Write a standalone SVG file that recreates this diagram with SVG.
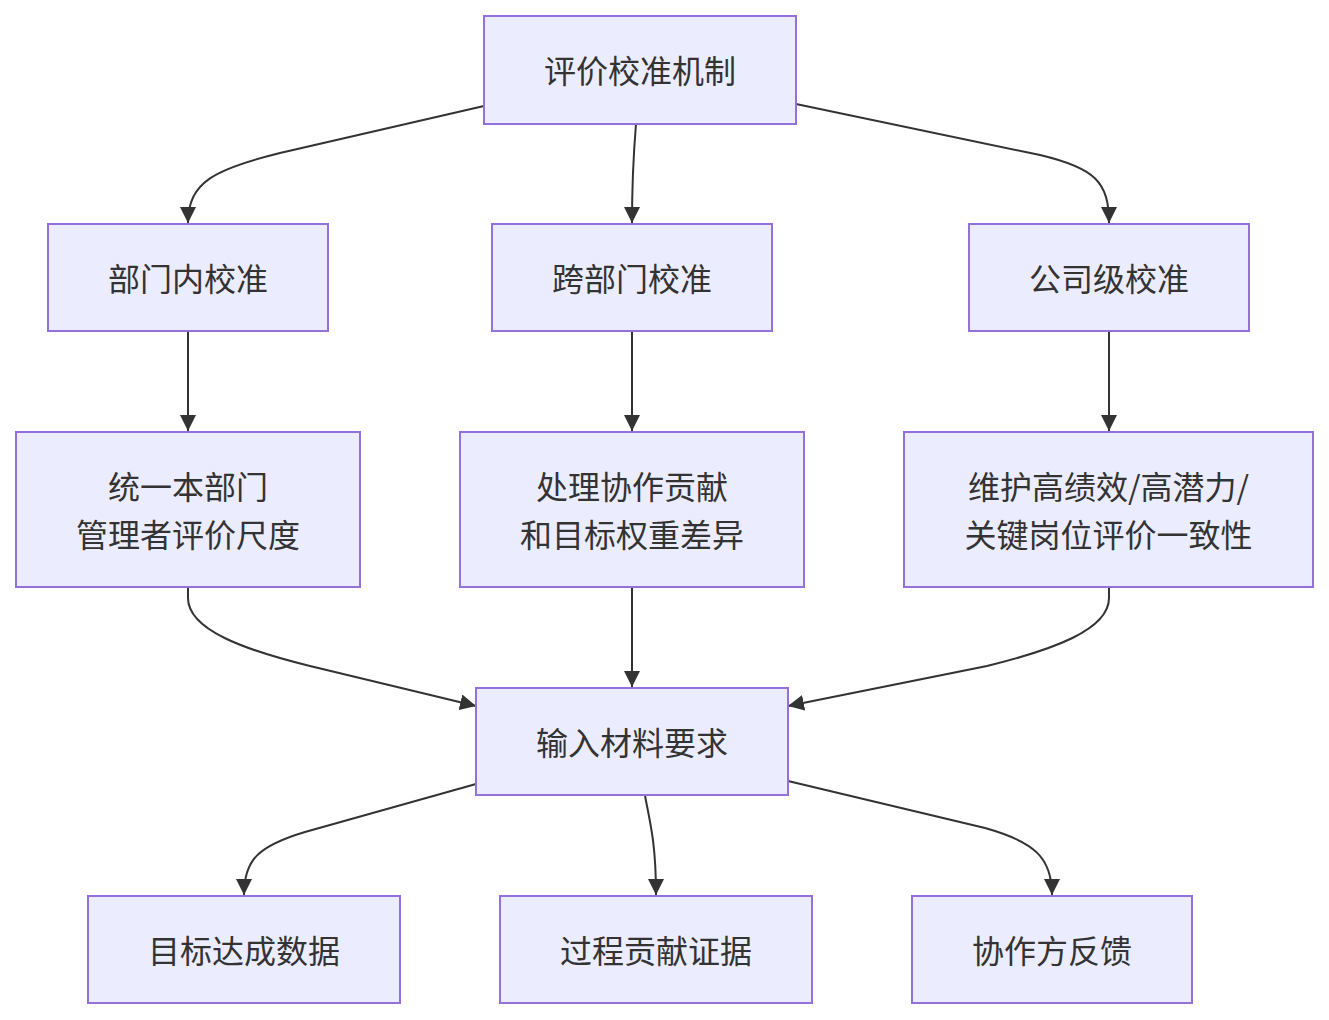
<svg xmlns="http://www.w3.org/2000/svg" width="1329" height="1020" viewBox="0 0 1329 1020">
<style>
.node rect{fill:#ECECFF;stroke:#9370DB;stroke-width:2}
.node text{font-family:"Noto Sans CJK SC","Noto Sans",sans-serif;font-size:32px;fill:#333;text-anchor:middle;dominant-baseline:central}
.edges path{fill:none;stroke:#333;stroke-width:2;marker-end:url(#arrow)}
</style>
<defs>
<marker id="arrow" viewBox="0 0 10 10" refX="10" refY="5" markerUnits="userSpaceOnUse" markerWidth="16" markerHeight="16" orient="auto">
<path d="M0,0 L10,5 L0,10 z" fill="#333"/>
</marker>
</defs>
<g class="edges">
<path d="M484,106 L280,153 C215,169 188,182 188,223"/>
<path d="M636,124 C633,160 632,180 632,223"/>
<path d="M796,104 L1040,155 C1095,168 1109,182 1109,223"/>
<path d="M188,331 L188,431"/>
<path d="M632,331 L632,431"/>
<path d="M1109,331 L1109,431"/>
<path d="M188,588 L188,598 C188,630 245,650 310,666 L476,706"/>
<path d="M632,588 L632,687"/>
<path d="M1109,588 L1109,598 C1109,630 1052,650 987,666 L788,706"/>
<path d="M476,784 L305,832 C258,846 244,860 244,895"/>
<path d="M645,796 C652,830 656,850 656,895"/>
<path d="M788,781 L985,828 C1035,842 1052,858 1052,895"/>
</g>
<g id="n1" class="node"><rect x="484" y="16" width="312" height="108"/><text x="640" y="69">评价校准机制</text></g>
<g id="n2" class="node"><rect x="48" y="224" width="280" height="107"/><text x="188" y="277">部门内校准</text></g>
<g id="n3" class="node"><rect x="492" y="224" width="280" height="107"/><text x="632" y="277">跨部门校准</text></g>
<g id="n4" class="node"><rect x="969" y="224" width="280" height="107"/><text x="1109" y="277">公司级校准</text></g>
<g id="n5" class="node"><rect x="16" y="432" width="344" height="155"/><text x="188" y="485">统一本部门</text><text x="188" y="533">管理者评价尺度</text></g>
<g id="n6" class="node"><rect x="460" y="432" width="344" height="155"/><text x="632" y="485">处理协作贡献</text><text x="632" y="533">和目标权重差异</text></g>
<g id="n7" class="node"><rect x="904" y="432" width="409" height="155"/><text x="1108.5" y="485">维护高绩效/高潜力/</text><text x="1108.5" y="533">关键岗位评价一致性</text></g>
<g id="n8" class="node"><rect x="476" y="688" width="312" height="107"/><text x="632" y="741">输入材料要求</text></g>
<g id="n9" class="node"><rect x="88" y="896" width="312" height="107"/><text x="244" y="949">目标达成数据</text></g>
<g id="n10" class="node"><rect x="500" y="896" width="312" height="107"/><text x="656" y="949">过程贡献证据</text></g>
<g id="n11" class="node"><rect x="912" y="896" width="280" height="107"/><text x="1052" y="949">协作方反馈</text></g>
</svg>
